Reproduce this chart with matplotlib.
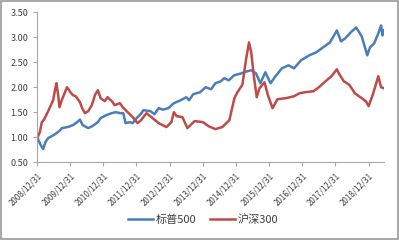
import matplotlib.pyplot as plt
import matplotlib.dates as mdates
from matplotlib.patches import Rectangle
import numpy as np
import pandas as pd

plt.rcParams['font.family'] = ['Noto Sans CJK SC', 'DejaVu Sans']

# months after 2008/12/31
spx_month = [0, 1.2, 2.2, 3, 4, 6, 8, 9, 11, 13, 14.5, 15.5, 16.5, 18.5, 20, 22, 23, 25, 27,
             28.5, 30, 31.2, 32, 33.5, 34.6, 36, 37.3, 38.5, 41, 42.5, 44, 45.5, 47.5, 49.5,
             52, 54, 55, 56.5, 59, 61, 63, 64.5, 66.5, 67.7, 69.4, 71.3, 74, 76, 77.5, 79.2,
             80.8, 82.6, 84.5, 86, 88.6, 91, 93, 95.5, 98.5, 101, 103, 106, 108.5, 110,
             111.5, 113.5, 115.5, 117.5, 119.5, 120.5, 122, 123.5, 124.5, 125, 125.5]
spx = [1.00, 0.85, 0.76, 0.90, 0.98, 1.04, 1.12, 1.18, 1.20, 1.24, 1.30, 1.35, 1.24, 1.18,
       1.22, 1.30, 1.38, 1.44, 1.48, 1.50, 1.48, 1.48, 1.28, 1.30, 1.28, 1.38, 1.45, 1.54,
       1.52, 1.46, 1.58, 1.55, 1.58, 1.68, 1.74, 1.80, 1.74, 1.86, 1.90, 2.00, 1.96, 2.08,
       2.12, 2.18, 2.14, 2.24, 2.28, 2.32, 2.34, 2.28, 2.08, 2.30, 2.08, 2.20, 2.38, 2.44,
       2.38, 2.54, 2.64, 2.70, 2.78, 2.90, 3.14, 2.92, 2.98, 3.10, 3.20, 3.02, 2.64, 2.80,
       2.88, 3.08, 3.24, 3.04, 3.14]

hs_month = [0, 1.0, 1.7, 2.5, 4.0, 5.8, 6.5, 7.0, 7.6, 8.1, 9.0, 10.8, 11.5, 12.0, 13.0,
            14.0, 15.5, 16.3, 17.3, 18.5, 19.8, 21.0, 22.0, 23.0, 24.5, 25.5, 27.4, 28.0,
            30.0, 31.0, 32.4, 34.6, 36.4, 37.6, 39.6, 41.8, 44, 46.8, 48.6, 49.5, 50.5, 52.6,
            54.4, 57, 60, 62, 64.5, 67, 69.6, 71.4, 72.5, 74.3, 75.6, 76.7, 77.5, 78.5, 79.5,
            80.5, 82.3, 83.5, 85.2, 87, 90, 93, 95, 97, 100, 102, 104, 106.5, 108.5, 109.5,
            111, 113, 115, 117, 119, 120, 121.5, 123.5, 124.5, 125.5]
hs = [0.97, 1.10, 1.30, 1.35, 1.52, 1.74, 1.95, 2.08, 1.85, 1.60, 1.75, 2.00, 1.95, 1.90,
      1.84, 1.82, 1.70, 1.58, 1.48, 1.52, 1.64, 1.85, 1.94, 1.78, 1.72, 1.80, 1.70, 1.64,
      1.68, 1.60, 1.52, 1.40, 1.28, 1.34, 1.48, 1.38, 1.28, 1.20, 1.30, 1.50, 1.42, 1.40,
      1.18, 1.32, 1.30, 1.22, 1.16, 1.20, 1.34, 1.78, 1.90, 2.05, 2.55, 2.90, 2.70, 2.20,
      1.80, 1.98, 2.10, 1.85, 1.58, 1.76, 1.78, 1.82, 1.88, 1.90, 1.92, 2.00, 2.10, 2.22,
      2.36, 2.25, 2.12, 2.05, 1.88, 1.80, 1.72, 1.62, 1.85, 2.22, 2.00, 1.98]

tick_years = list(range(2008, 2019))
start = pd.Timestamp('2008-12-31')


def to_date(m):
    return start + pd.to_timedelta(np.array(m) * 30.44, unit='D')


fig = plt.figure(figsize=(3.99, 2.40), dpi=100)
ax = fig.add_axes([0.093, 0.325, 0.869, 0.623])

ax.plot(to_date(spx_month), spx, color='#4A7EBB', lw=1.8, label='标普500')
ax.plot(to_date(hs_month), hs, color='#BE4B48', lw=1.8, label='沪深300')

ax.set_ylim(0.5, 3.5)
ax.set_yticks(np.arange(0.5, 3.51, 0.5))
ax.yaxis.set_major_formatter(plt.FormatStrFormatter('%.2f'))
ax.set_xlim(start, to_date(125.5))
ticks = [pd.Timestamp(f'{y}-12-31') for y in tick_years]
ax.set_xticks(ticks)
ax.set_xticklabels([f'{y}/12/31' for y in tick_years], rotation=45, ha='right',
                   rotation_mode='anchor', fontsize=5.8, color='#404040')

for s in ['top', 'right']:
    ax.spines[s].set_visible(False)
for s in ['left', 'bottom']:
    ax.spines[s].set_color('#a6a6a6')
    ax.spines[s].set_linewidth(0.8)
ax.tick_params(axis='both', length=3, width=0.8, color='#a6a6a6')
ax.tick_params(axis='y', labelsize=6.5, labelcolor='#404040')

fig.legend(loc='lower center', bbox_to_anchor=(0.51, 0.02), ncol=2, frameon=False,
           fontsize=8, handlelength=2.2, handletextpad=0.3, columnspacing=1.2,
           labelcolor='#404040')

fig.patches.append(Rectangle((0.002, 0.004), 0.995, 0.992, transform=fig.transFigure,
                             fill=False, edgecolor='#9a9a9a', lw=1.2))

fig.savefig('out.png', dpi=100)
